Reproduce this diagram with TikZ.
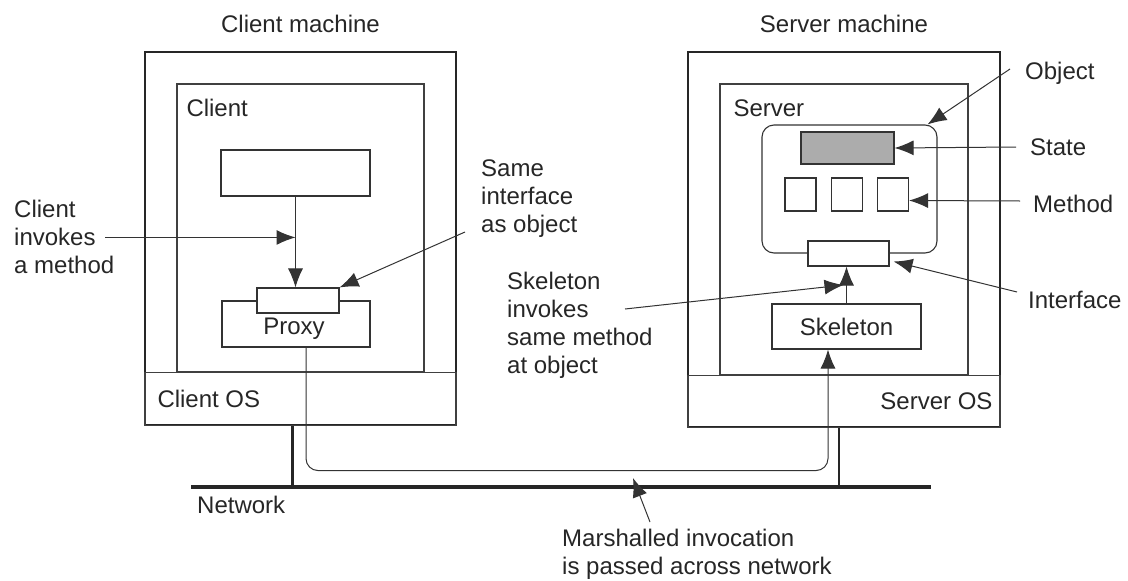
\documentclass[tikz,border=0pt]{standalone}
\usepackage{fontspec}
\setmainfont{Liberation Sans}
\usetikzlibrary{calc,positioning,shapes,arrows.meta}
\tikzstyle{machine} = [rectangle, draw=black!85, line width=2.4pt, inner sep=0pt]
\tikzstyle{process} = [rectangle, draw=black!75, line width=1.4pt, inner sep=0pt]
\tikzstyle{box} = [rectangle, draw=black!80, line width=1.1pt, inner sep=0pt, fill=white]
\tikzstyle{note} = [align=left, inner sep=0pt, text=black!85]
\tikzstyle{line} = [draw=black!80, line width=1pt, -{Latex[length=19pt,width=15pt]}]
\tikzstyle{wire} = [draw=black!85, line width=4.5pt]
\tikzstyle{leg} = [draw=black!85, line width=2.6pt]

\begin{document}
\begin{tikzpicture}[x=1pt, y=-1pt, font=\fontsize{24}{28}\selectfont]
        \useasboundingbox (0,0) rectangle (1128,581);
        % Place nodes
        \node [machine, minimum width=311pt, minimum height=373pt] (clientmachine) at (300.5,238.5) {};
        \node [note, above=18pt of clientmachine] (clientmachinelbl) {Client machine};
        \node [process, minimum width=311pt, minimum height=53pt, anchor=south] (clientos) at (clientmachine.south) {};
        \node [note, right=13pt of clientos.west, anchor=west] (clientoslbl) {Client OS};
        \node [process, minimum width=247pt, minimum height=288pt] (client) at (300.5,228) {};
        \node [note, below right=16pt and 10pt of client.north west] (clientlbl) {Client};
        \node [box, minimum width=149pt, minimum height=46pt] (caller) at (295.5,173) {};
        \node [box, minimum width=148pt, minimum height=46pt] (proxy) at (296,324) {};
        \node [box, minimum width=82pt, minimum height=25pt] (proxyif) at (298,300.5) {};
        \node [note] (proxylbl) at (294,329) {Proxy};

        \node [machine, minimum width=312pt, minimum height=375pt] (servermachine) at (844,239.5) {};
        \node [note, above=18pt of servermachine] (servermachinelbl) {Server machine};
        \node [process, minimum width=312pt, minimum height=52pt, anchor=south] (serveros) at (servermachine.south) {};
        \node [note, left=8pt of serveros.east, anchor=east] (serveroslbl) {Server OS};
        \node [process, minimum width=248pt, minimum height=291pt] (server) at (844,229.5) {};
        \node [note, below right=16pt and 14pt of server.north west] (serverlbl) {Server};
        \node [rectangle, draw=black!80, line width=1.1pt, rounded corners=12pt, minimum width=175pt, minimum height=128pt] (object) at (849.5,189) {};
        \node [box, fill=gray!65, minimum width=93pt, minimum height=32pt] (state) at (847.5,148) {};
        \node [box, minimum width=31pt, minimum height=33pt] (method1) at (800.5,194.5) {};
        \node [box, minimum width=31pt, minimum height=33pt] (method2) at (847,194.5) {};
        \node [box, minimum width=31pt, minimum height=33pt] (method3) at (893,194.5) {};
        \node [box, minimum width=81pt, minimum height=25pt] (serverif) at (848.5,253.5) {};
        \node [box, text=black!85, minimum width=149pt, minimum height=45pt] (skeleton) at (846.5,326.5) {Skeleton};

        \node [note, anchor=west] (invokelbl) at (14,237) {Client\\invokes\\a method};
        \node [note, anchor=west] (samelbl) at (481,199) {Same\\interface\\as object};
        \node [note, anchor=west] (skellbl) at (507,325) {Skeleton\\invokes\\same method\\at object};
        \node [note, anchor=west] (objectlbl) at (1025,73) {Object};
        \node [note, anchor=west] (statelbl) at (1030,147) {State};
        \node [note, anchor=west] (methodlbl) at (1033,204) {Method};
        \node [note, anchor=west] (interfacelbl) at (1028,300) {Interface};
        \node [note, anchor=west] (networklbl) at (197,505) {Network};
        \node [note, anchor=west] (marshlbl) at (562,554) {Marshalled invocation\\is passed across network};

        \coordinate (netwest) at (191,487);
        \coordinate (neteast) at (931,487);
        \coordinate (callmid) at ($(caller.south)!0.45!(caller.south |- proxyif.north)$);
        \coordinate (skelmid) at ($(skeleton.north)!0.5!(skeleton.north |- serverif.south)$);
        \coordinate (samefoot) at (465,232);
        \coordinate (skelfoot) at (625,309);
        \coordinate (objectfoot) at (1010,69);
        \coordinate (statefoot) at (1016,147);
        \coordinate (methodfoot) at (1020,201);
        \coordinate (interfacefoot) at (1017,292);
        \coordinate (marshfoot) at (650,522);
        \coordinate (marshtip) at (633,478);

        % Draw edges
        \path [wire] (netwest) -- (neteast);
        \path [leg] ([xshift=-8pt]clientmachine.south) -- ([xshift=-8pt]clientmachine.south |- netwest);
        \path [leg] ([xshift=-5pt]servermachine.south) -- ([xshift=-5pt]servermachine.south |- netwest);
        \path [line] (caller.south) -- (caller.south |- proxyif.north);
        \path [line] ([xshift=-9pt]invokelbl.east |- callmid) -- (callmid);
        \path [line] (samefoot) -- (proxyif.north east);
        \path [line, rounded corners=12pt] ([xshift=10pt]proxy.south) -- ++(0,123) -| ([xshift=-18.5pt]skeleton.south);
        \path [line] (skeleton.north) -- (skeleton.north |- serverif.south);
        \path [line] (skelfoot) -- ([xshift=-3pt]skelmid);
        \path [line] (objectfoot) -- ([xshift=-10pt]object.north east);
        \path [line] (statefoot) -- (state.east);
        \path [line] (methodfoot) -- ([yshift=-6pt]method3.east);
        \path [line] (interfacefoot) -- ([xshift=4pt,yshift=-8pt]serverif.east);
        \path [line] (marshfoot) -- (marshtip);
    \end{tikzpicture}
\end{document}
